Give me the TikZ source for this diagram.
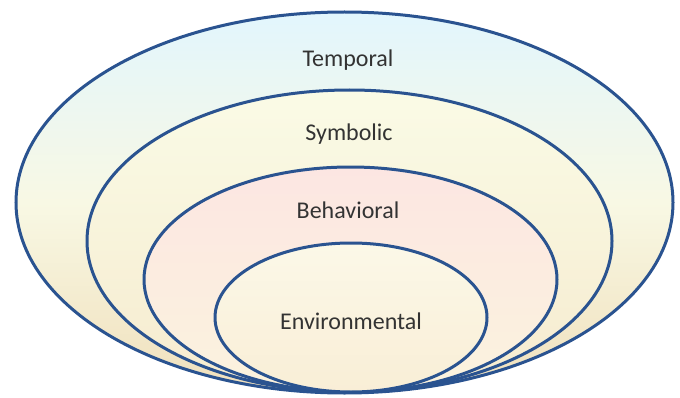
\documentclass[tikz,border=0pt]{standalone}
\usepackage{fontspec}
\setmainfont{Carlito}
\definecolor{ringline}{HTML}{2A5390}
\definecolor{txt}{HTML}{333333}
\definecolor{cyanT}{HTML}{E2F6FD}
\definecolor{tanB}{HTML}{F0E0BC}
\definecolor{creamM}{HTML}{F8F8E4}
\definecolor{creamT}{HTML}{FAFBE6}
\definecolor{creamB}{HTML}{F6EBCF}
\definecolor{pinkT}{HTML}{FCE6E2}
\definecolor{pinkB}{HTML}{FBF3DE}
\definecolor{innerT}{HTML}{FBF8E8}
\definecolor{innerB}{HTML}{F9EED6}
\begin{document}
\begin{tikzpicture}[x=1pt,y=1pt,
  ring/.style={draw=ringline,line width=3pt},
  lab/.style={font=\fontsize{24}{28}\selectfont,text=txt,inner sep=0pt}]
\useasboundingbox (0,0) rectangle (680,397);
% outer
\shade[top color=cyanT,bottom color=tanB,middle color=creamM] (344.5,194.5) ellipse [x radius=328.5,y radius=190.5];
\draw[ring] (344.5,194.5) ellipse [x radius=328.5,y radius=190.5];
% second
\shade[top color=creamT,bottom color=creamB] (349.5,156) ellipse [x radius=262.5,y radius=151];
\draw[ring] (349.5,156) ellipse [x radius=262.5,y radius=151];
% third
\shade[top color=pinkT,bottom color=pinkB] (350.5,117.5) ellipse [x radius=206.5,y radius=112.5];
\draw[ring] (350.5,117.5) ellipse [x radius=206.5,y radius=112.5];
% fourth
\shade[top color=innerT,bottom color=innerB] (351,79.5) ellipse [x radius=136,y radius=74.5];
\draw[ring] (351,79.5) ellipse [x radius=136,y radius=74.5];
% labels
\node[lab] (temporal) at (348,337) {Temporal};
\node[lab] (symbolic) at (349,263) {Symbolic};
\node[lab] (behavioral) at (348,187) {Behavioral};
\node[lab] (environmental) at (351,76) {Environmental};
\end{tikzpicture}
\end{document}
